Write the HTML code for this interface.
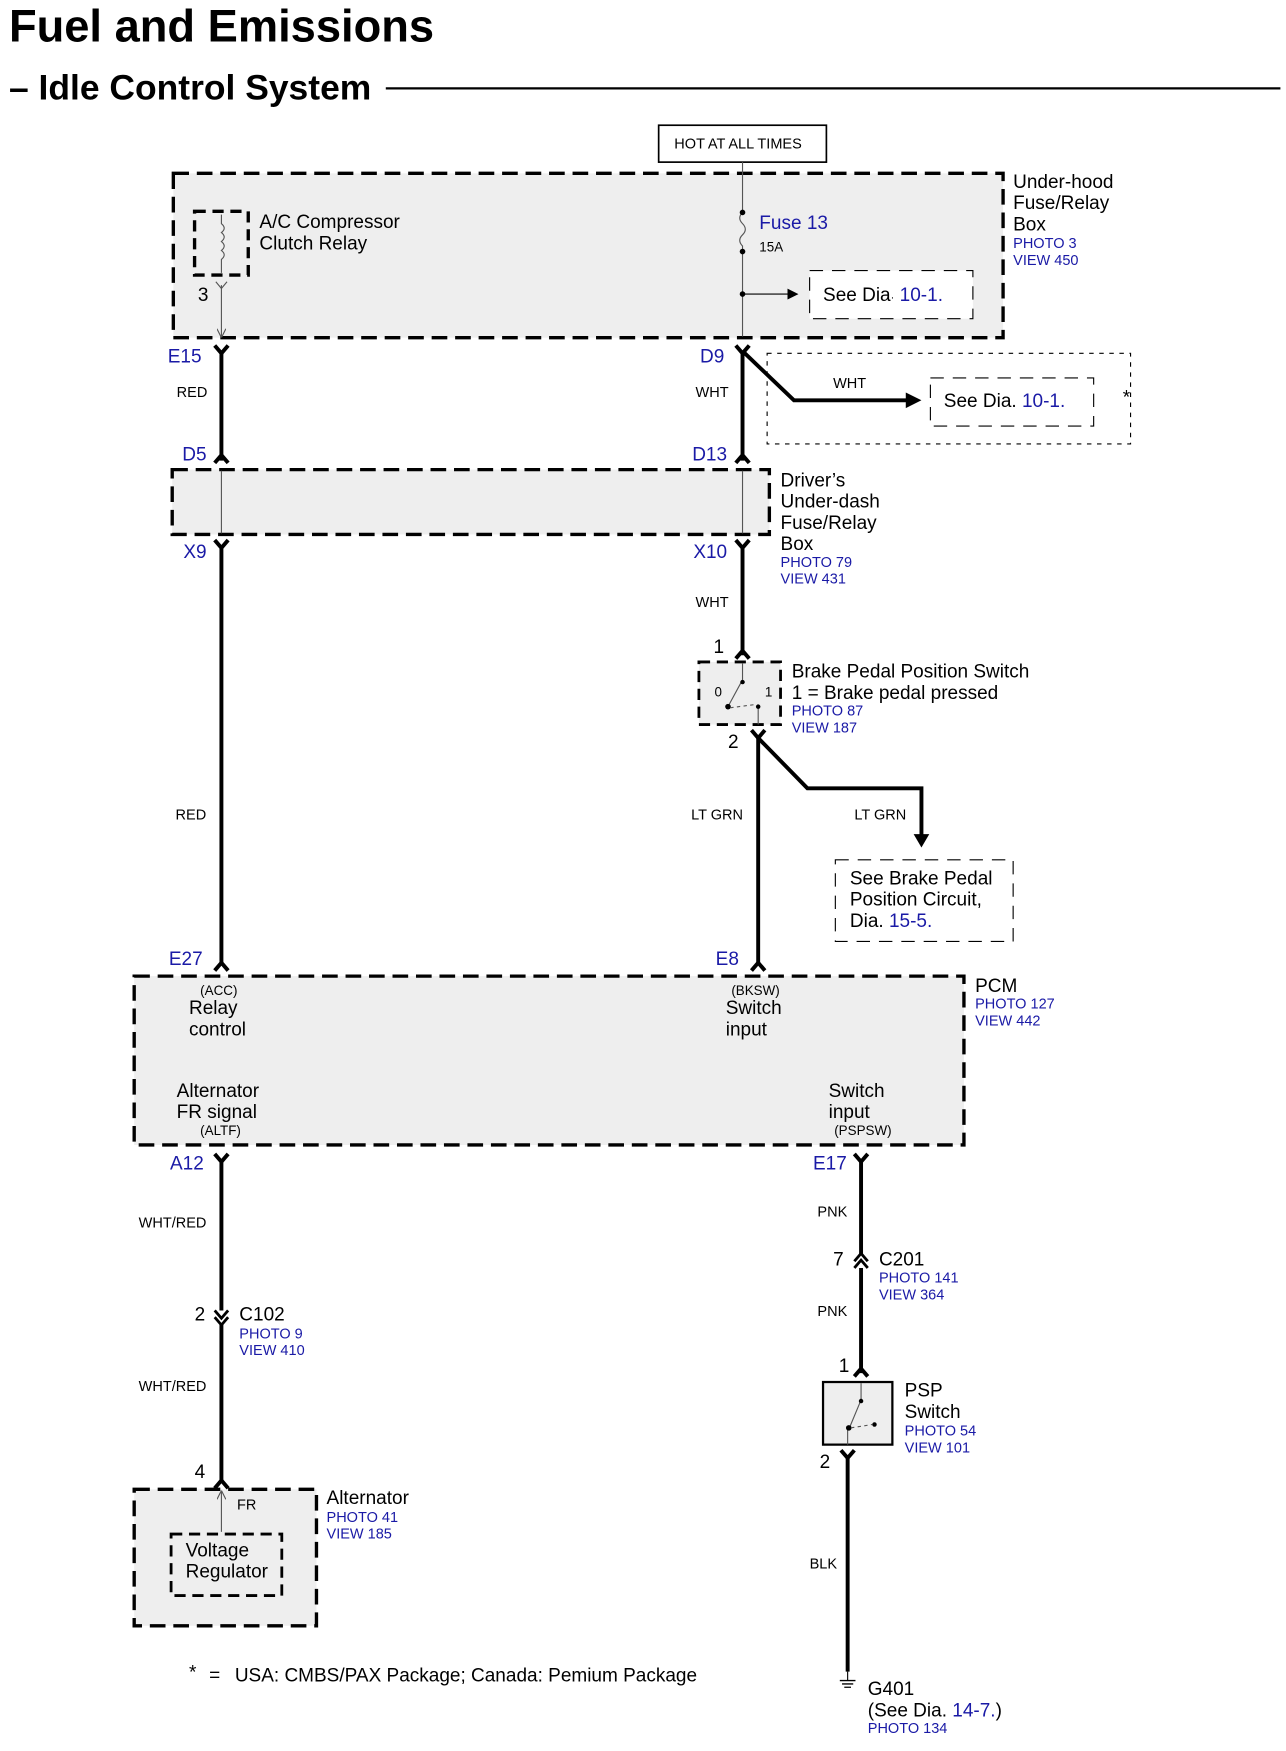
<!DOCTYPE html>
<html><head><meta charset="utf-8"><style>
html,body{margin:0;padding:0;background:#fff;}
svg{display:block;}
text{font-family:"Liberation Sans",Arial,sans-serif;fill:#000;}
.b{fill:#1a1aa6;}
.s{font-size:13px;}
.m{font-size:17px;}
.w{stroke:#000;stroke-width:3.5;fill:none;}
.t{stroke:#555;stroke-width:1;fill:none;}
.box{fill:#eeeeee;stroke:#000;stroke-width:3;stroke-dasharray:14 7;}
.db{fill:#fff;stroke:#000;stroke-width:1;stroke-dasharray:12 8;}
</style></head><body>
<svg width="1286" height="1751" viewBox="0 0 1150 1566" preserveAspectRatio="none" xmlns="http://www.w3.org/2000/svg">
<defs>
<marker id="ah" markerWidth="10" markerHeight="10" refX="9" refY="5" orient="auto" markerUnits="userSpaceOnUse"><path d="M0,0 L10,5 L0,10 z" fill="#000"/></marker>
<marker id="at" markerWidth="8" markerHeight="8" refX="7" refY="4" orient="auto" markerUnits="userSpaceOnUse"><path d="M0,0 L8,4 L0,8" fill="none" stroke="#555"/></marker>
</defs>
<text x="8" y="37" font-size="40.5" font-weight="bold">Fuel and Emissions</text>
<text x="8" y="89" font-size="31.7" font-weight="bold">– Idle Control System</text>
<line x1="345" y1="79" x2="1145" y2="79" stroke="#000" stroke-width="2"/>

<rect x="589" y="112" width="150" height="33" fill="#fff" stroke="#000" stroke-width="1.5"/>
<text x="603" y="133" font-size="13">HOT AT ALL TIMES</text>

<rect class="box" x="155" y="155" width="742" height="147"/>
<rect x="174" y="189" width="48" height="57" fill="none" stroke="#000" stroke-width="3" stroke-dasharray="10 6"/>
<path d="M198,192 L198,200 q5,4 0,8 q5,4 0,8 q5,4 0,8 q5,4 0,8 L198,244" class="t"/>
<text x="232" y="204" class="m">A/C Compressor</text>
<text x="232" y="223" class="m">Clutch Relay</text>
<text x="177" y="269" class="m">3</text>
<line x1="198" y1="255" x2="198" y2="301" class="t" marker-end="url(#at)"/>
<path d="M193,252 L198,258 L203,252" class="t"/>
<path d="M664,145 L664,190 M664,190 q-5,5 0,10 q5,5 0,10 q-5,5 0,10 L664,301" class="t"/>
<circle cx="664" cy="190" r="2.5"/><circle cx="664" cy="225" r="2.5"/><circle cx="664" cy="263" r="2.5"/>
<line x1="664" y1="263" x2="713" y2="263" stroke="#000" stroke-width="1" marker-end="url(#ah)"/>
<text x="679" y="205" class="m b">Fuse 13</text>
<text x="679" y="225" font-size="12">15A</text>
<rect class="db" x="724" y="242" width="146" height="43" fill="#eee"/>
<text x="736" y="269" class="m">See Dia<tspan font-size="10">·</tspan> <tspan class="b">10-1.</tspan></text>
<text x="906" y="168" class="m">Under-hood</text>
<text x="906" y="187" class="m">Fuse/Relay</text>
<text x="906" y="206" class="m">Box</text>
<text x="906" y="222" class="s b">PHOTO 3</text>
<text x="906" y="237" class="s b">VIEW 450</text>

<text x="150" y="324" class="m b">E15</text>
<text x="626" y="324" class="m b">D9</text>
<path d="M192,309 L198,316 L204,309 M658,309 L664,316 L670,309" class="w" stroke-width="2.5"/>
<line x1="198" y1="314" x2="198" y2="412" class="w"/>
<line x1="664" y1="314" x2="664" y2="412" class="w"/>
<path d="M192,414 L198,407 L204,414 M658,414 L664,407 L670,414" class="w" stroke-width="2.5"/>
<text x="158" y="355" class="s">RED</text>
<text x="622" y="355" class="s">WHT</text>
<rect x="686" y="316" width="325" height="81" fill="none" stroke="#000" stroke-width="1" stroke-dasharray="4 5"/>
<path d="M664,314 L710,358 L812,358" class="w"/>
<path d="M810,351 L824,358 L810,365 z"/>
<text x="745" y="347" class="s">WHT</text>
<rect class="db" x="832" y="338" width="146" height="43"/>
<text x="844" y="364" class="m">See  Dia. <tspan class="b">10-1.</tspan></text>
<text x="1004" y="361" class="m">*</text>
<text x="163" y="412" class="m b">D5</text>
<text x="619" y="412" class="m b">D13</text>

<rect class="box" x="154" y="420" width="534" height="58"/>
<line x1="198" y1="421" x2="198" y2="477" class="t"/>
<line x1="664" y1="421" x2="664" y2="477" class="t"/>
<text x="698" y="435" class="m">Driver’s</text>
<text x="698" y="454" class="m">Under-dash</text>
<text x="698" y="473" class="m">Fuse/Relay</text>
<text x="698" y="492" class="m">Box</text>
<text x="698" y="507" class="s b">PHOTO 79</text>
<text x="698" y="522" class="s b">VIEW 431</text>
<text x="164" y="499" class="m b">X9</text>
<text x="620" y="499" class="m b">X10</text>
<path d="M192,483 L198,490 L204,483 M658,483 L664,490 L670,483" class="w" stroke-width="2.5"/>
<line x1="198" y1="488" x2="198" y2="862" class="w"/>
<line x1="664" y1="488" x2="664" y2="586" class="w"/>
<path d="M658,589 L664,582 L670,589" class="w" stroke-width="2.5"/>
<text x="622" y="543" class="s">WHT</text>

<text x="638" y="584" class="m">1</text>
<rect x="625" y="592" width="73" height="56" fill="#eee" stroke="#000" stroke-width="2.5" stroke-dasharray="10 6"/>
<path d="M664,593 L664,608 M664,608 L651,632 M678,632 L678,648" class="t"/>
<circle cx="651" cy="632" r="2.5"/><circle cx="664" cy="610" r="2"/><circle cx="678" cy="632" r="2"/>
<path d="M653,633 L676,630" class="t" stroke-dasharray="3 3"/>
<text x="639" y="623" font-size="12">0</text>
<text x="684" y="623" font-size="12">1</text>
<text x="708" y="606" class="m">Brake Pedal Position Switch</text>
<text x="708" y="625" class="m">1 = Brake pedal pressed</text>
<text x="708" y="640" class="s b">PHOTO 87</text>
<text x="708" y="655" class="s b">VIEW 187</text>
<text x="651" y="669" class="m">2</text>
<path d="M672,653 L678,660 L684,653" class="w" stroke-width="2.5"/>
<line x1="678" y1="658" x2="678" y2="862" class="w"/>
<path d="M678,660 L722,705 L824,705 L824,748" class="w"/>
<path d="M817,746 L824,758 L831,746 z"/>
<text x="157" y="733" class="s">RED</text>
<text x="618" y="733" class="s">LT GRN</text>
<text x="764" y="733" class="s">LT GRN</text>
<rect class="db" x="747" y="769" width="159" height="73"/>
<text x="760" y="791" class="m">See Brake Pedal</text>
<text x="760" y="810" class="m">Position Circuit,</text>
<text x="760" y="829" class="m">Dia.<tspan class="b"> 15-5.</tspan></text>
<text x="151" y="863" class="m b">E27</text>
<text x="640" y="863" class="m b">E8</text>
<path d="M192,868 L198,861 L204,868 M672,868 L678,861 L684,868" class="w" stroke-width="2.5"/>

<rect class="box" x="120" y="873" width="742" height="151"/>
<text x="179" y="890" font-size="12">(ACC)</text>
<text x="169" y="907" class="m">Relay</text>
<text x="169" y="926" class="m">control</text>
<text x="654" y="890" font-size="12">(BKSW)</text>
<text x="649" y="907" class="m">Switch</text>
<text x="649" y="926" class="m">input</text>
<text x="158" y="981" class="m">Alternator</text>
<text x="158" y="1000" class="m">FR signal</text>
<text x="179" y="1015" font-size="12">(ALTF)</text>
<text x="741" y="981" class="m">Switch</text>
<text x="741" y="1000" class="m">input</text>
<text x="746" y="1015" font-size="12">(PSPSW)</text>
<text x="872" y="887" class="m">PCM</text>
<text x="872" y="902" class="s b">PHOTO 127</text>
<text x="872" y="917" class="s b">VIEW 442</text>
<text x="152" y="1046" class="m b">A12</text>
<text x="727" y="1046" class="m b">E17</text>
<path d="M192,1032 L198,1039 L204,1032 M764,1032 L770,1039 L776,1032" class="w" stroke-width="2.5"/>
<line x1="198" y1="1037" x2="198" y2="1326" class="w"/>
<line x1="770" y1="1037" x2="770" y2="1228" class="w"/>
<text x="124" y="1098" class="s">WHT/RED</text>
<text x="731" y="1088" class="s">PNK</text>
<path d="M764,1128 L770,1121 L776,1128 M764,1134 L770,1127 L776,1134" fill="#fff" stroke="#000" stroke-width="2.5"/>
<text x="745" y="1132" class="m">7</text>
<text x="786" y="1132" class="m">C201</text>
<text x="786" y="1147" class="s b">PHOTO 141</text>
<text x="786" y="1162" class="s b">VIEW 364</text>
<text x="731" y="1177" class="s">PNK</text>
<path d="M192,1172 L198,1179 L204,1172 M192,1178 L198,1185 L204,1178" fill="#fff" stroke="#000" stroke-width="2.5"/>
<text x="174" y="1181" class="m">2</text>
<text x="214" y="1181" class="m">C102</text>
<text x="214" y="1197" class="s b">PHOTO 9</text>
<text x="214" y="1212" class="s b">VIEW 410</text>
<text x="124" y="1244" class="s">WHT/RED</text>

<text x="750" y="1227" class="m">1</text>
<path d="M764,1231 L770,1224 L776,1231" class="w" stroke-width="2.5"/>
<rect x="736" y="1236" width="62" height="56" fill="#eee" stroke="#000" stroke-width="2"/>
<path d="M770,1237 L770,1252 L760,1276 M758,1278 L758,1292" class="t"/>
<circle cx="770" cy="1253" r="2"/><circle cx="759" cy="1277" r="2.5"/><circle cx="782" cy="1274" r="2"/>
<path d="M761,1277 L780,1274" class="t" stroke-dasharray="3 3"/>
<text x="809" y="1249" class="m">PSP</text>
<text x="809" y="1268" class="m">Switch</text>
<text x="809" y="1284" class="s b">PHOTO 54</text>
<text x="809" y="1299" class="s b">VIEW 101</text>
<text x="733" y="1313" class="m">2</text>
<path d="M752,1297 L758,1304 L764,1297" class="w" stroke-width="2.5"/>
<line x1="758" y1="1302" x2="758" y2="1495" class="w"/>
<text x="724" y="1403" class="s">BLK</text>
<line x1="758" y1="1495" x2="758" y2="1503" stroke="#000" stroke-width="1"/>
<path d="M751,1503 L765,1503 M753,1506 L763,1506 M755,1509 L761,1509" stroke="#000" stroke-width="1.2"/>
<text x="776" y="1516" class="m">G401</text>
<text x="776" y="1535" class="m">(See  Dia. <tspan class="b">14-7.</tspan>)</text>
<text x="776" y="1550" class="s b">PHOTO 134</text>

<text x="174" y="1322" class="m">4</text>
<path d="M192,1331 L198,1324 L204,1331" class="w" stroke-width="2.5"/>
<rect class="box" x="120" y="1332" width="163" height="122"/>
<line x1="198" y1="1370" x2="198" y2="1334" class="t" marker-end="url(#at)"/>
<text x="212" y="1350" font-size="13">FR</text>
<rect x="153" y="1372" width="99" height="55" fill="none" stroke="#000" stroke-width="2.5" stroke-dasharray="10 6"/>
<text x="166" y="1392" class="m">Voltage</text>
<text x="166" y="1411" class="m">Regulator</text>
<text x="292" y="1345" class="m">Alternator</text>
<text x="292" y="1361" class="s b">PHOTO 41</text>
<text x="292" y="1376" class="s b">VIEW 185</text>

<text x="169" y="1501" class="m">*</text>
<text x="187" y="1504" class="m">=</text>
<text x="210" y="1504" class="m">USA: CMBS/PAX Package; Canada: Pemium Package</text>
</svg>
</body></html>
